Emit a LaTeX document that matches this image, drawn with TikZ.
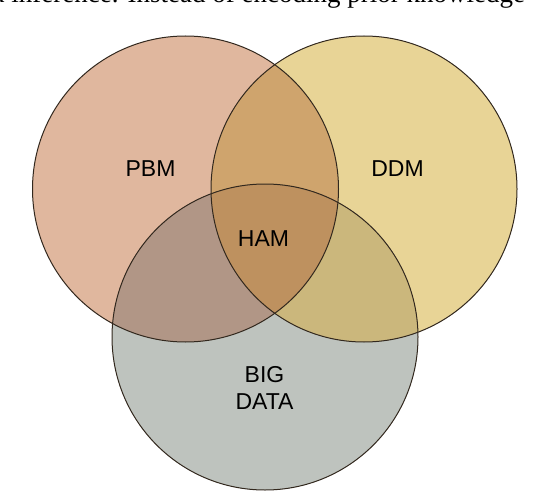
\documentclass[tikz,border=0pt]{standalone}
\usepackage{fontspec}
\setmainfont{Liberation Sans}
\newfontfamily\serifcut{Liberation Serif}
\definecolor{cL}{RGB}{224,183,158}
\definecolor{cR}{RGB}{232,212,150}
\definecolor{cB}{RGB}{190,195,190}
\definecolor{cLR}{RGB}{207,164,109}
\definecolor{cLB}{RGB}{177,150,134}
\definecolor{cRB}{RGB}{203,183,124}
\definecolor{cLRB}{RGB}{190,145,95}
\definecolor{edge}{RGB}{50,40,30}
\begin{document}
\begin{tikzpicture}[x=1pt,y=-1pt,
  lbl/.style={font=\fontsize{23}{27.5}\selectfont, text=black, inner sep=0pt, align=center},
  ring/.style={draw=edge, line width=1pt}]
\useasboundingbox (0,0) rectangle (538,492);
\clip (0,0) rectangle (538,492);
\coordinate (cl) at (185.5,189);
\coordinate (cr) at (364,189);
\coordinate (cb) at (265,337);
\def\rad{153}
% top cut-off text
\node[anchor=base west, inner sep=0pt, font=\serifcut\fontsize{27}{30}\selectfont] (topline) at (-9,3) {d inference. Instead of encoding prior knowledge};
% base fills
\fill[cL] (cl) circle[radius=\rad];
\fill[cR] (cr) circle[radius=\rad];
\fill[cB] (cb) circle[radius=\rad];
\begin{scope}
  \clip (cl) circle[radius=\rad];
  \fill[cLR] (cr) circle[radius=\rad];
  \fill[cLB] (cb) circle[radius=\rad];
\end{scope}
\begin{scope}
  \clip (cr) circle[radius=\rad];
  \fill[cRB] (cb) circle[radius=\rad];
\end{scope}
\begin{scope}
  \clip (cl) circle[radius=\rad];
  \clip (cr) circle[radius=\rad];
  \fill[cLRB] (cb) circle[radius=\rad];
\end{scope}
% outlines
\draw[ring] (cl) circle[radius=\rad];
\draw[ring] (cr) circle[radius=\rad];
\draw[ring] (cb) circle[radius=\rad];
% labels
\node[lbl] (pbm) at (150.5,169) {PBM};
\node[lbl] (ddm) at (397.5,169) {DDM};
\node[lbl] (ham) at (263.5,238.5) {HAM};
\node[lbl] (big) at (264.5,388) {BIG\\DATA};
\end{tikzpicture}
\end{document}
